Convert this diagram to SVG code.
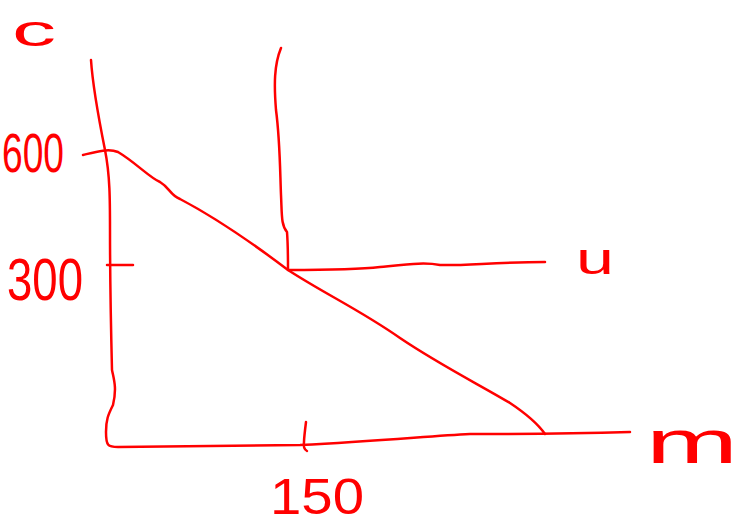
<svg xmlns="http://www.w3.org/2000/svg" width="742" height="528" viewBox="0 0 742 528">
<style>
.s{fill:none;stroke:#ff0000;stroke-width:2.5;stroke-linecap:round;stroke-linejoin:round}
.t{fill:#ff0000;font-family:"Liberation Sans",sans-serif}
</style>
<rect width="742" height="528" fill="#ffffff"/>
<g id="connectors">
<path class="s" d="M91,60 C93,90 100,125 105,150 C110,175 110,200 110,230 C110,280 111,330 112,370 C114,380 117,388 113,405 C108,415 106,420 106,432 C106,446 108,447 118,447 C200,446 260,446 300,445 C380,441 430,436 470,434 C520,434 560,434 630,432"/>
<path class="s" d="M83,155 C95,152 108,148 118,152 C135,162 150,178 160,182 C170,188 170,195 180,199 C220,220 255,245 288,270 C325,294 360,310 400,338 C440,365 480,385 510,403 C528,415 538,424 545,434"/>
<path class="s" d="M281,48 C274,65 274,85 276,110 C280,140 280,170 281,195 C282,215 281,225 287,232 C288,245 288,258 288,270 C320,270 355,270 380,267 C410,264 425,262 440,265 C460,266 500,262 545,262"/>
<path class="s" d="M107,265 L133,265"/>
<path class="s" d="M306,422 C305,430 304,438 304,442 C303,448 305,450 307,451"/>
</g>
<g id="labels">
<text class="t" x="12" y="46" font-size="44" textLength="44" lengthAdjust="spacingAndGlyphs">c</text>
<text class="t" x="2" y="172" font-size="56" textLength="62" lengthAdjust="spacingAndGlyphs">600</text>
<text class="t" x="7" y="300" font-size="60" textLength="76" lengthAdjust="spacingAndGlyphs">300</text>
<text class="t" x="576" y="274" font-size="44" textLength="38" lengthAdjust="spacingAndGlyphs">u</text>
<text class="t" x="646" y="463" font-size="62" textLength="92" lengthAdjust="spacingAndGlyphs">m</text>
<text class="t" x="270" y="514" font-size="50" textLength="94" lengthAdjust="spacingAndGlyphs">150</text>
</g>
</svg>
